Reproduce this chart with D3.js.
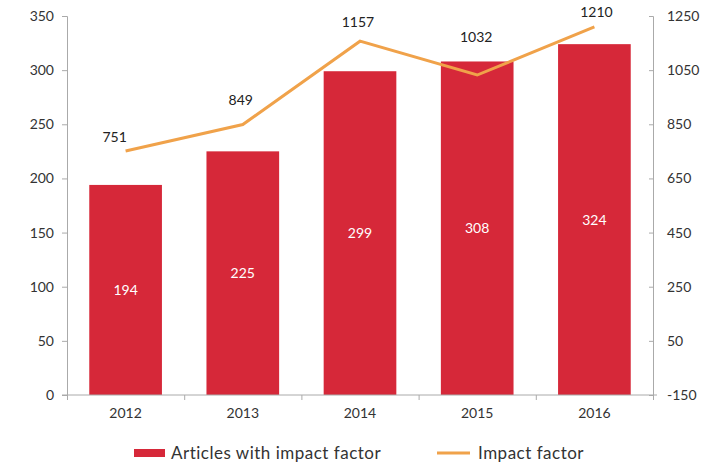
<!DOCTYPE html>
<html>
<head>
<meta charset="utf-8">
<script src="https://cdn.jsdelivr.net/npm/d3@7/dist/d3.min.js"></script>
<style>
  body { margin: 0; background: #fff; }
  text { font-family: Lato, "Open Sans", sans-serif; }
</style>
</head>
<body>
<div id="draw"></div>
<script>
let years = ['2012', '2013', '2014', '2015', '2016'];
let articles = [194, 225, 299, 308, 324];
let impact = [751, 849, 1157, 1032, 1210];
let leftTicks = [0, 50, 100, 150, 200, 250, 300, 350];
let rightTicks = [-150, 50, 250, 450, 650, 850, 1050, 1250];

// label nudges for the line values (dx, dy above point)
let lblDx = [-11, -2, -2, -1, 2];
let lblDy = [14, 25, 19, 38, 15];

let W = 724, H = 464;
let padL = 67, padR = 653, padT = 16, padB = 395;

let svg = d3.select('#draw').append('svg').attr('width', W).attr('height', H);

let x = d3.scaleBand().domain(years).range([padL, padR]).paddingInner(0.38).paddingOuter(0.19);
let yL = d3.scaleLinear().domain([0, 350]).range([padB, padT]);
let yR = d3.scaleLinear().domain([-150, 1250]).range([padB, padT]);

let red = '#d62839', orange = '#f0a24a', grey = '#aaa', ink = '#333';

// bars
svg.selectAll('rect.bar').data(articles).enter().append('rect')
  .attr('class', 'bar')
  .attr('x', (d, i) => x(years[i]))
  .attr('y', d => yL(d))
  .attr('width', x.bandwidth())
  .attr('height', d => yL(0) - yL(d))
  .attr('fill', red);

svg.selectAll('text.barlbl').data(articles).enter().append('text')
  .attr('x', (d, i) => x(years[i]) + x.bandwidth() / 2)
  .attr('y', d => (yL(d) + yL(0)) / 2 + 5)
  .attr('text-anchor', 'middle')
  .attr('fill', '#fff')
  .attr('font-size', 14)
  .text(d => d);

// axes
let axL = svg.append('g').attr('transform', 'translate(' + padL + ',0)')
  .call(d3.axisLeft(yL).tickValues(leftTicks).tickSize(5).tickPadding(8));
let axR = svg.append('g').attr('transform', 'translate(' + padR + ',0)')
  .call(d3.axisRight(yR).tickValues(rightTicks).tickSize(-4).tickPadding(14).tickFormat(d => String(d)));
let xb = d3.scaleLinear().domain([0, 5]).range([padL, padR]);
let axB = svg.append('g').attr('transform', 'translate(0,' + padB + ')')
  .call(d3.axisBottom(xb).tickValues([0, 1, 2, 3, 4, 5]).tickSize(5).tickFormat(''));
axB.select('.domain').attr('d', 'M' + (padL - 5) + ',0H' + (padR + 4));

[axL, axR, axB].forEach(a => {
  a.selectAll('.domain').attr('stroke', grey);
  a.selectAll('.tick line').attr('stroke', grey);
  a.selectAll('.tick text').attr('fill', ink).attr('font-size', 14).attr('font-family', 'Lato, sans-serif');
});

svg.selectAll('text.year').data(years).enter().append('text')
  .attr('x', d => x(d) + x.bandwidth() / 2)
  .attr('y', padB + 23)
  .attr('text-anchor', 'middle')
  .attr('fill', ink)
  .attr('font-size', 14)
  .text(d => d);

// impact factor line
let line = d3.line()
  .x((d, i) => x(years[i]) + x.bandwidth() / 2)
  .y(d => yR(d));
svg.append('path').datum(impact)
  .attr('d', line)
  .attr('fill', 'none')
  .attr('stroke', orange)
  .attr('stroke-width', 3);

svg.selectAll('text.implbl').data(impact).enter().append('text')
  .attr('x', (d, i) => x(years[i]) + x.bandwidth() / 2 + lblDx[i])
  .attr('y', (d, i) => yR(d) - lblDy[i] + 5)
  .attr('text-anchor', 'middle')
  .attr('fill', '#222')
  .attr('font-size', 14)
  .text(d => d);

// legend
let lg = svg.append('g');
lg.append('rect').attr('x', 134).attr('y', 449).attr('width', 31).attr('height', 8).attr('fill', red);
lg.append('text').attr('x', 171).attr('y', 459).attr('fill', ink).attr('font-size', 17)
  .attr('letter-spacing', 0.5).text('Articles with impact factor');
lg.append('line').attr('x1', 437).attr('x2', 470).attr('y1', 453).attr('y2', 453).attr('stroke', orange).attr('stroke-width', 3);
lg.append('text').attr('x', 478).attr('y', 459).attr('fill', ink).attr('font-size', 17)
  .attr('letter-spacing', 0.5).text('Impact factor');
</script>
</body>
</html>
